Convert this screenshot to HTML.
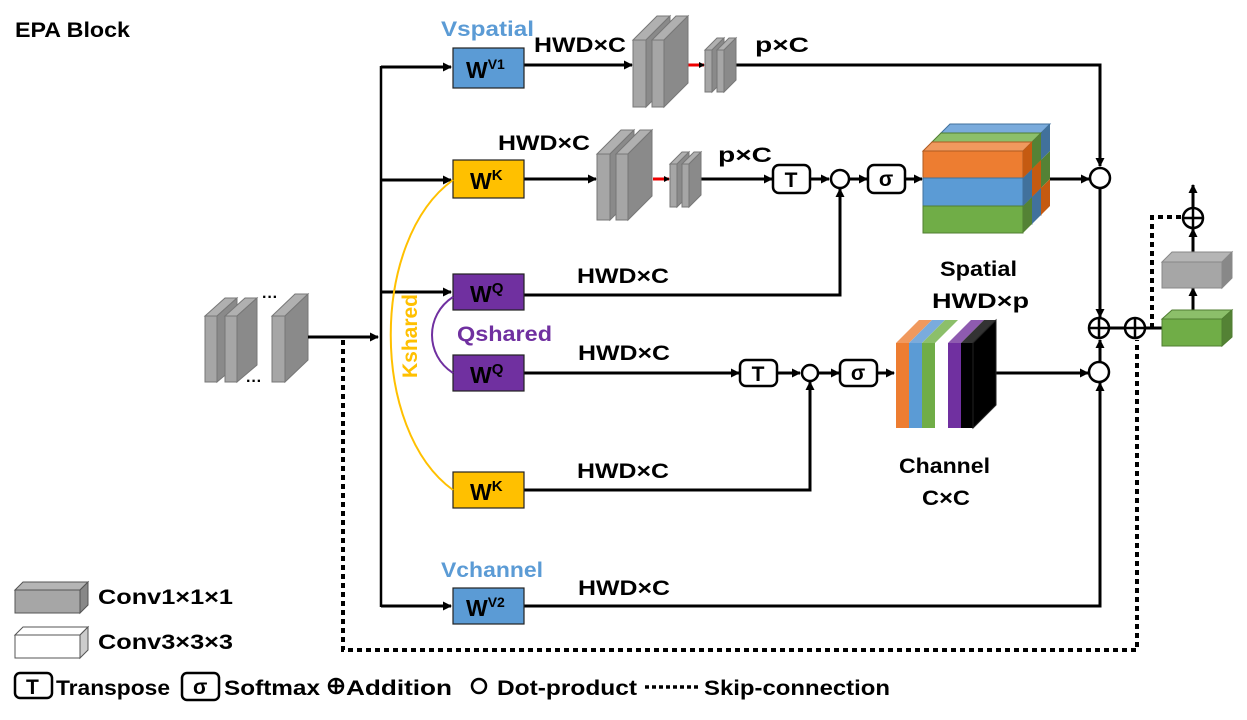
<!DOCTYPE html>
<html><head><meta charset="utf-8"><style>
html,body{margin:0;padding:0;background:#fff}
svg{display:block}
text{font-family:"Liberation Sans","DejaVu Sans",sans-serif;font-weight:bold}
</style></head><body>
<svg width="1247" height="720" viewBox="0 0 1247 720" xmlns="http://www.w3.org/2000/svg">
<defs>
<marker id="a" markerWidth="9" markerHeight="9" refX="8" refY="4.5" orient="auto" markerUnits="userSpaceOnUse"><path d="M0,0 L9,4.5 L0,9 z" fill="#000"/></marker>
<marker id="r" markerWidth="6" markerHeight="6" refX="5" refY="3" orient="auto" markerUnits="userSpaceOnUse"><path d="M0,0 L6,3 L0,6 z" fill="#000"/></marker>
</defs>
<text x="15" y="37" font-size="21" textLength="115" lengthAdjust="spacingAndGlyphs">EPA Block</text>

<!-- input plates -->
<g stroke="#777" stroke-width="1">
<polygon points="205,316 217,316 237,298 225,298" fill="#b0b0b0"/><polygon points="217,316 237,298 237,365 217,382" fill="#8a8a8a"/><rect x="205" y="316" width="12" height="66" fill="#a6a6a6"/>
<polygon points="225,316 237,316 257,298 245,298" fill="#b0b0b0"/><polygon points="237,316 257,298 257,365 237,382" fill="#8a8a8a"/><rect x="225" y="316" width="12" height="66" fill="#a6a6a6"/>
<polygon points="272,316 285,316 308,294 295,294" fill="#b0b0b0"/><polygon points="285,316 308,294 308,360 285,382" fill="#8a8a8a"/><rect x="272" y="316" width="13" height="66" fill="#a6a6a6"/>
</g>
<text x="262" y="302" font-size="16">···</text>
<text x="246" y="386" font-size="16">···</text>

<g stroke="#000" stroke-width="3" fill="none">
<line x1="308" y1="337" x2="378" y2="337" marker-end="url(#a)"/>
<line x1="381" y1="66" x2="381" y2="607" stroke-width="2.5"/>
<line x1="381" y1="67" x2="451" y2="67" marker-end="url(#a)"/>
<line x1="381" y1="180" x2="451" y2="180" marker-end="url(#a)"/>
<line x1="381" y1="292" x2="451" y2="292" marker-end="url(#a)"/>
<line x1="381" y1="606" x2="451" y2="606" marker-end="url(#a)"/>
<line x1="524" y1="65" x2="632" y2="65" marker-end="url(#a)"/>
<polyline points="735,65 1100,65 1100,166" marker-end="url(#a)"/>
<line x1="524" y1="179" x2="596" y2="179" marker-end="url(#a)"/>
<line x1="700" y1="179" x2="772" y2="179" marker-end="url(#a)"/>
<line x1="810" y1="179" x2="829" y2="179" marker-end="url(#a)"/>
<line x1="849" y1="179" x2="867" y2="179" marker-end="url(#a)"/>
<line x1="905" y1="179" x2="922" y2="179" marker-end="url(#a)"/>
<line x1="1050" y1="179" x2="1089" y2="179" marker-end="url(#a)"/>
<polyline points="524,295 840,295 840,189" marker-end="url(#a)"/>
<line x1="524" y1="373" x2="739" y2="373" marker-end="url(#a)"/>
<line x1="777" y1="373" x2="800" y2="373" marker-end="url(#a)"/>
<line x1="818" y1="373" x2="839" y2="373" marker-end="url(#a)"/>
<line x1="877" y1="373" x2="894" y2="373" marker-end="url(#a)"/>
<line x1="995" y1="373" x2="1088" y2="373" marker-end="url(#a)"/>
<polyline points="524,490 810,490 810,382" marker-end="url(#a)"/>
<polyline points="524,606 1100,606 1100,383" marker-end="url(#a)"/>
<line x1="1100" y1="189" x2="1100" y2="317" marker-end="url(#a)"/>
<line x1="1100" y1="362" x2="1100" y2="340" marker-end="url(#a)"/>
<line x1="1110" y1="328" x2="1125" y2="328"/>
<line x1="1145" y1="328" x2="1162" y2="328"/>
<line x1="1193" y1="318" x2="1193" y2="288" marker-end="url(#a)"/>
<line x1="1193" y1="258" x2="1193" y2="229" marker-end="url(#a)"/>
<line x1="1193" y1="208" x2="1193" y2="185" marker-end="url(#a)"/>
</g>
<g stroke="#000" stroke-width="4" fill="none" stroke-dasharray="5,4">
<polyline points="343,340 343,650 1137,650 1137,340"/>
<polyline points="1152,328 1152,217 1182,217"/>
</g>
<line x1="688" y1="65" x2="704" y2="65" stroke="#e00" stroke-width="3" marker-end="url(#r)"/>
<line x1="653" y1="179" x2="669" y2="179" stroke="#e00" stroke-width="3" marker-end="url(#r)"/>

<g stroke="#777" stroke-width="1">
<polygon points="633,40 646,40 670,16 657,16" fill="#b0b0b0"/><polygon points="646,40 670,16 670,83 646,107" fill="#8a8a8a"/><rect x="633" y="40" width="13" height="67" fill="#a6a6a6"/>
<polygon points="652,40 664,40 688,16 676,16" fill="#b0b0b0"/><polygon points="664,40 688,16 688,83 664,107" fill="#8a8a8a"/><rect x="652" y="40" width="12" height="67" fill="#a6a6a6"/>
<polygon points="705,50 712,50 724,38 717,38" fill="#b0b0b0"/><polygon points="712,50 724,38 724,80 712,92" fill="#8a8a8a"/><rect x="705" y="50" width="7" height="42" fill="#a6a6a6"/>
<polygon points="717,50 724,50 736,38 729,38" fill="#b0b0b0"/><polygon points="724,50 736,38 736,80 724,92" fill="#8a8a8a"/><rect x="717" y="50" width="7" height="42" fill="#a6a6a6"/>
<polygon points="597,154 610,154 634,130 621,130" fill="#b0b0b0"/><polygon points="610,154 634,130 634,196 610,220" fill="#8a8a8a"/><rect x="597" y="154" width="13" height="66" fill="#a6a6a6"/>
<polygon points="616,154 628,154 652,130 640,130" fill="#b0b0b0"/><polygon points="628,154 652,130 652,196 628,220" fill="#8a8a8a"/><rect x="616" y="154" width="12" height="66" fill="#a6a6a6"/>
<polygon points="670,164 677,164 689,152 682,152" fill="#b0b0b0"/><polygon points="677,164 689,152 689,195 677,207" fill="#8a8a8a"/><rect x="670" y="164" width="7" height="43" fill="#a6a6a6"/>
<polygon points="682,164 689,164 701,152 694,152" fill="#b0b0b0"/><polygon points="689,164 701,152 701,195 689,207" fill="#8a8a8a"/><rect x="682" y="164" width="7" height="43" fill="#a6a6a6"/>
</g>

<g stroke-width="1">
<g transform="translate(18,-18)">
<polygon points="923,151 932,142 1032,142 1023,151" fill="#7aabdc" stroke="#41719c"/>
<rect x="923" y="151" width="100" height="27" fill="#5b9bd5" stroke="#41719c"/><rect x="923" y="178" width="100" height="28" fill="#70ad47" stroke="#507e32"/><rect x="923" y="206" width="100" height="27" fill="#ed7d31" stroke="#ae5a21"/>
<polygon points="1023,151 1032,142 1032,169 1023,178" fill="#41719c"/><polygon points="1023,178 1032,169 1032,197 1023,206" fill="#548235"/><polygon points="1023,206 1032,197 1032,224 1023,233" fill="#c55a11"/>
</g>
<g transform="translate(9,-9)">
<polygon points="923,151 932,142 1032,142 1023,151" fill="#8cbf6a" stroke="#507e32"/>
<rect x="923" y="151" width="100" height="27" fill="#70ad47" stroke="#507e32"/><rect x="923" y="178" width="100" height="28" fill="#ed7d31" stroke="#ae5a21"/><rect x="923" y="206" width="100" height="27" fill="#5b9bd5" stroke="#41719c"/>
<polygon points="1023,151 1032,142 1032,169 1023,178" fill="#548235"/><polygon points="1023,178 1032,169 1032,197 1023,206" fill="#c55a11"/><polygon points="1023,206 1032,197 1032,224 1023,233" fill="#41719c"/>
</g>
<polygon points="923,151 932,142 1032,142 1023,151" fill="#f0995e" stroke="#ae5a21"/>
<rect x="923" y="151" width="100" height="27" fill="#ed7d31" stroke="#ae5a21"/><rect x="923" y="178" width="100" height="28" fill="#5b9bd5" stroke="#41719c"/><rect x="923" y="206" width="100" height="27" fill="#70ad47" stroke="#507e32"/>
<polygon points="1023,151 1032,142 1032,169 1023,178" fill="#c55a11"/><polygon points="1023,178 1032,169 1032,197 1023,206" fill="#41719c"/><polygon points="1023,206 1032,197 1032,224 1023,233" fill="#548235"/>
</g>

<g>
<polygon points="896,343 919,320 932,320 909,343" fill="#f0995e"/><rect x="896" y="343" width="13" height="85" fill="#ed7d31"/>
<polygon points="909,343 932,320 945,320 922,343" fill="#7aabdc"/><rect x="909" y="343" width="13" height="85" fill="#5b9bd5"/>
<polygon points="922,343 945,320 958,320 935,343" fill="#8cbf6a"/><rect x="922" y="343" width="13" height="85" fill="#70ad47"/>
<polygon points="948,343 971,320 984,320 961,343" fill="#8e5bb0"/><rect x="948" y="343" width="13" height="85" fill="#7030a0"/>
<polygon points="961,343 984,320 996,320 973,343" fill="#333"/><rect x="961" y="343" width="12" height="85" fill="#000"/>
<polygon points="973,343 996,320 996,405 973,428" fill="#000" stroke="#222"/>
</g>

<g stroke="#222" stroke-width="1.2">
<rect x="453" y="48" width="71" height="40" fill="#5b9bd5"/>
<rect x="453" y="160" width="71" height="38" fill="#ffc000"/>
<rect x="453" y="274" width="71" height="36" fill="#7030a0"/>
<rect x="453" y="355" width="71" height="36" fill="#7030a0"/>
<rect x="453" y="472" width="71" height="36" fill="#ffc000"/>
<rect x="453" y="588" width="71" height="36" fill="#5b9bd5"/>
</g>
<g font-size="23">
<text x="466" y="78">W<tspan font-size="14" dy="-9">V1</tspan></text>
<text x="470" y="189">W<tspan font-size="15" dy="-9">K</tspan></text>
<text x="470" y="302">W<tspan font-size="15" dy="-9">Q</tspan></text>
<text x="470" y="383">W<tspan font-size="15" dy="-9">Q</tspan></text>
<text x="470" y="500">W<tspan font-size="15" dy="-9">K</tspan></text>
<text x="466" y="616">W<tspan font-size="14" dy="-9">V2</tspan></text>
</g>

<path d="M453,180 C370,240 370,430 453,490" fill="none" stroke="#ffc000" stroke-width="2"/>
<path d="M453,297 C425,315 425,355 453,373" fill="none" stroke="#7030a0" stroke-width="2"/>
<text transform="translate(417,378) rotate(-90)" font-size="21" fill="#ffc000" textLength="84" lengthAdjust="spacingAndGlyphs">Kshared</text>
<text x="457" y="341" font-size="21" fill="#7030a0" textLength="95" lengthAdjust="spacingAndGlyphs">Qshared</text>
<text x="441" y="36" font-size="21" fill="#5b9bd5" textLength="93" lengthAdjust="spacingAndGlyphs">Vspatial</text>
<text x="441" y="577" font-size="21" fill="#5b9bd5" textLength="102" lengthAdjust="spacingAndGlyphs">Vchannel</text>

<g fill="#fff" stroke="#000" stroke-width="2.5">
<rect x="773" y="165" width="37" height="28" rx="6"/>
<rect x="868" y="165" width="37" height="28" rx="6"/>
<rect x="740" y="360" width="37" height="26" rx="6"/>
<rect x="840" y="360" width="37" height="26" rx="6"/>
<circle cx="840" cy="179" r="9"/>
<circle cx="810" cy="373" r="8"/>
<circle cx="1100" cy="178" r="10"/>
<circle cx="1099" cy="372" r="10"/>
<circle cx="1099" cy="328" r="10"/>
<circle cx="1135" cy="328" r="10"/>
<circle cx="1193" cy="218" r="10"/>
</g>
<g stroke="#000" stroke-width="2.5">
<line x1="1089" y1="328" x2="1109" y2="328"/><line x1="1099" y1="318" x2="1099" y2="338"/>
<line x1="1125" y1="328" x2="1145" y2="328"/><line x1="1135" y1="318" x2="1135" y2="338"/>
<line x1="1183" y1="218" x2="1203" y2="218"/><line x1="1193" y1="208" x2="1193" y2="228"/>
</g>
<g font-size="21" text-anchor="middle">
<text x="791" y="187">T</text><text x="886" y="186">σ</text>
<text x="758" y="381">T</text><text x="858" y="380">σ</text>
</g>

<g stroke-width="1">
<polygon points="1162,262 1172,252 1232,252 1222,262" fill="#b5b5b5" stroke="#888"/>
<polygon points="1222,262 1232,252 1232,278 1222,288" fill="#888" stroke="#888"/>
<rect x="1162" y="262" width="60" height="26" fill="#a6a6a6" stroke="#888"/>
<polygon points="1162,319 1172,310 1232,310 1222,319" fill="#8cbf6a" stroke="#507e32"/>
<polygon points="1222,319 1232,310 1232,337 1222,346" fill="#548235" stroke="#507e32"/>
<rect x="1162" y="319" width="60" height="27" fill="#70ad47" stroke="#507e32"/>
</g>

<g font-size="21" lengthAdjust="spacingAndGlyphs">
<text x="534" y="52" textLength="92" lengthAdjust="spacingAndGlyphs">HWD×C</text>
<text x="755" y="52" textLength="54" lengthAdjust="spacingAndGlyphs">p×C</text>
<text x="498" y="150" textLength="92" lengthAdjust="spacingAndGlyphs">HWD×C</text>
<text x="718" y="162" textLength="54" lengthAdjust="spacingAndGlyphs">p×C</text>
<text x="577" y="283" textLength="92" lengthAdjust="spacingAndGlyphs">HWD×C</text>
<text x="578" y="360" textLength="92" lengthAdjust="spacingAndGlyphs">HWD×C</text>
<text x="577" y="478" textLength="92" lengthAdjust="spacingAndGlyphs">HWD×C</text>
<text x="578" y="595" textLength="92" lengthAdjust="spacingAndGlyphs">HWD×C</text>
<text x="940" y="276" textLength="77" lengthAdjust="spacingAndGlyphs">Spatial</text>
<text x="932" y="308" textLength="97" lengthAdjust="spacingAndGlyphs">HWD×p</text>
<text x="899" y="473" textLength="91" lengthAdjust="spacingAndGlyphs">Channel</text>
<text x="922" y="505" textLength="48" lengthAdjust="spacingAndGlyphs">C×C</text>
</g>

<g stroke-width="1">
<polygon points="15,590 23,582 88,582 80,590" fill="#b5b5b5" stroke="#555"/>
<polygon points="80,590 88,582 88,605 80,613" fill="#888" stroke="#555"/>
<rect x="15" y="590" width="65" height="23" fill="#a6a6a6" stroke="#555"/>
<polygon points="15,635 23,627 88,627 80,635" fill="#fff" stroke="#555"/>
<polygon points="80,635 88,627 88,650 80,658" fill="#ccc" stroke="#555"/>
<rect x="15" y="635" width="65" height="23" fill="#fff" stroke="#555"/>
</g>
<g font-size="21">
<text x="98" y="604" textLength="135" lengthAdjust="spacingAndGlyphs">Conv1×1×1</text>
<text x="98" y="649" textLength="135" lengthAdjust="spacingAndGlyphs">Conv3×3×3</text>
</g>
<g fill="#fff" stroke="#000" stroke-width="2.5">
<rect x="15" y="673" width="37" height="25" rx="5"/>
<rect x="182" y="673" width="37" height="27" rx="5"/>
<circle cx="336" cy="686" r="7"/>
<circle cx="479" cy="686" r="7"/>
</g>
<g stroke="#000" stroke-width="2.5"><line x1="329" y1="686" x2="343" y2="686"/><line x1="336" y1="679" x2="336" y2="693"/></g>
<line x1="645" y1="687" x2="700" y2="687" stroke="#000" stroke-width="3.5" stroke-dasharray="4,3"/>
<g font-size="21">
<text x="26" y="694">T</text>
<text x="56" y="695" textLength="114" lengthAdjust="spacingAndGlyphs">Transpose</text>
<text x="193" y="694">σ</text>
<text x="224" y="695" textLength="96" lengthAdjust="spacingAndGlyphs">Softmax</text>
<text x="346" y="695" textLength="106" lengthAdjust="spacingAndGlyphs">Addition</text>
<text x="497" y="695" textLength="140" lengthAdjust="spacingAndGlyphs">Dot-product</text>
<text x="704" y="695" textLength="186" lengthAdjust="spacingAndGlyphs">Skip-connection</text>
</g>
</svg>
</body></html>
